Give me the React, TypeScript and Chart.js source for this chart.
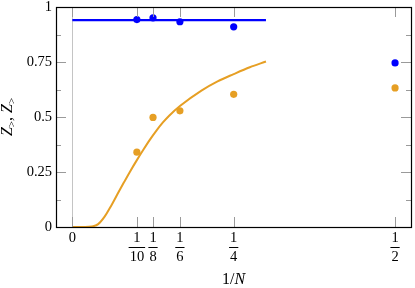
import { useEffect, useRef } from "react";
import { Chart, registerables } from "chart.js";
Chart.register(...registerables);

const X_TICKS = [0, 1 / 10, 1 / 8, 1 / 6, 1 / 4, 1 / 2];
const X_TICK_NUM = ["0", "1", "1", "1", "1", "1"];
const X_TICK_DEN = ["", "10", "8", "6", "4", "2"];
const Y_TICKS = [0, 0.25, 0.5, 0.75, 1];
const Y_TICK_LABELS = ["0", "0.25", "0.5", "0.75", "1"];
const Y_MINOR = [0.125, 0.375, 0.625, 0.875];

const POINT_X = [1 / 10, 1 / 8, 1 / 6, 1 / 4, 1 / 2];
const BLUE_Y = [0.943, 0.951, 0.933, 0.91, 0.746];
const ORANGE_Y = [0.34, 0.498, 0.528, 0.603, 0.632];

const BLUE_LINE_X = [0, 0.3];
const BLUE_LINE_Y = [0.94, 0.94];

const CURVE_X = [0, 0.01, 0.02, 0.03, 0.04, 0.05, 0.06, 0.07, 0.08, 0.09, 0.1, 0.11, 0.12, 0.13, 0.14, 0.15, 0.1667, 0.2, 0.225, 0.25, 0.275, 0.3];
const CURVE_Y = [0, 0, 0, 0.002, 0.013, 0.047, 0.096, 0.15, 0.203, 0.255, 0.304, 0.351, 0.396, 0.437, 0.474, 0.506, 0.55, 0.62, 0.662, 0.695, 0.726, 0.752];

const X_MIN = -0.0253;
const X_MAX = 0.5247;

const BLUE = "#0000ff";
const ORANGE = "#e69f24";
const FONT_FAMILY = "'Liberation Serif', serif";
const FONT_SIZE = 14.5;
const TITLE_SIZE = 16;

const zip = (xs: number[], ys: number[]) => xs.map((x, i) => ({ x, y: ys[i] }));

const decor = {
  id: "decor",
  beforeDatasetsDraw(chart: any) {
    const { ctx, chartArea: a, scales } = chart;
    const x = scales.x;
    ctx.save();
    ctx.strokeStyle = "#c4c4c4";
    ctx.lineWidth = 1;
    const px = Math.round(x.getPixelForValue(0)) + 0.5;
    ctx.beginPath();
    ctx.moveTo(px, a.top);
    ctx.lineTo(px, a.bottom);
    ctx.stroke();
    ctx.restore();
  },
  afterDraw(chart: any) {
    const { ctx, chartArea: a, scales } = chart;
    const x = scales.x;
    const y = scales.y;
    ctx.save();
    ctx.strokeStyle = "#9a9a9a";
    ctx.lineWidth = 1;
    ctx.beginPath();
    X_TICKS.forEach((v) => {
      const px = Math.round(x.getPixelForValue(v)) + 0.5;
      ctx.moveTo(px, a.bottom);
      ctx.lineTo(px, a.bottom - 10);
      ctx.moveTo(px, a.top);
      ctx.lineTo(px, a.top + 10);
    });
    Y_TICKS.forEach((v) => {
      const py = Math.round(y.getPixelForValue(v)) + 0.5;
      ctx.moveTo(a.left, py);
      ctx.lineTo(a.left + 10, py);
      ctx.moveTo(a.right, py);
      ctx.lineTo(a.right - 10, py);
    });
    Y_MINOR.forEach((v) => {
      const py = Math.round(y.getPixelForValue(v)) + 0.5;
      ctx.moveTo(a.left, py);
      ctx.lineTo(a.left + 5, py);
      ctx.moveTo(a.right, py);
      ctx.lineTo(a.right - 5, py);
    });
    ctx.stroke();
    ctx.strokeStyle = "#000";
    ctx.lineWidth = 1.2;
    ctx.strokeRect(Math.round(a.left) + 0.5, Math.round(a.top) + 0.5, Math.round(a.right) - Math.round(a.left), Math.round(a.bottom) - Math.round(a.top));
    ctx.font = `${FONT_SIZE}px ${FONT_FAMILY}`;
    ctx.lineWidth = 1;
    ctx.beginPath();
    X_TICKS.forEach((v, i) => {
      if (!X_TICK_DEN[i]) return;
      const px = x.getPixelForValue(v);
      const w = ctx.measureText(X_TICK_DEN[i]).width + 2;
      const by = Math.round(a.bottom + 20) + 0.5;
      ctx.moveTo(px - w / 2, by);
      ctx.lineTo(px + w / 2, by);
    });
    ctx.stroke();
    ctx.fillStyle = "#000";
    ctx.textBaseline = "middle";
    ctx.textAlign = "left";
    const upFont = `${TITLE_SIZE}px ${FONT_FAMILY}`;
    const itFont = `italic ${TITLE_SIZE}px ${FONT_FAMILY}`;
    ctx.font = upFont;
    const w1 = ctx.measureText("1/").width;
    ctx.font = itFont;
    const w2 = ctx.measureText("N").width;
    const cx = (a.left + a.right) / 2;
    const sx = cx - (w1 + w2) / 2;
    ctx.font = upFont;
    ctx.fillText("1/", sx, 280);
    ctx.font = itFont;
    ctx.fillText("N", sx + w1, 280);
    ctx.translate(8, (a.top + a.bottom) / 2);
    ctx.rotate(-Math.PI / 2);
    const subFont = `11px ${FONT_FAMILY}`;
    const parts: [string, string, number][] = [
      ["Z", itFont, 0],
      [">", subFont, 4],
      [", ", upFont, 0],
      ["Z", itFont, 0],
      [">", subFont, 4],
    ];
    let total = 0;
    parts.forEach(([t, f]) => {
      ctx.font = f;
      total += ctx.measureText(t).width;
    });
    let px = -total / 2;
    parts.forEach(([t, f, dy]) => {
      ctx.font = f;
      ctx.fillText(t, px, dy);
      px += ctx.measureText(t).width;
    });
    ctx.restore();
  },
};

export default function App() {
  const ref = useRef<HTMLCanvasElement | null>(null);
  useEffect(() => {
    document.body.style.margin = "0";
    const canvas = ref.current;
    if (!canvas) return;
    const chart = new Chart(canvas, {
      type: "scatter",
      data: {
        datasets: [
          {
            data: zip(BLUE_LINE_X, BLUE_LINE_Y),
            showLine: true,
            borderColor: BLUE,
            borderWidth: 2.2,
            pointRadius: 0,
          },
          {
            data: zip(POINT_X, BLUE_Y),
            backgroundColor: BLUE,
            borderWidth: 0,
            pointRadius: 3.6,
          },
          {
            data: zip(POINT_X, ORANGE_Y),
            backgroundColor: ORANGE,
            borderWidth: 0,
            pointRadius: 3.6,
          },
          {
            data: zip(CURVE_X, CURVE_Y),
            showLine: true,
            borderColor: ORANGE,
            borderWidth: 2,
            pointRadius: 0,
            cubicInterpolationMode: "monotone",
          },
        ],
      },
      options: {
        animation: false,
        responsive: false,
        events: [],
        layout: { padding: { top: 7, right: 4, left: 0, bottom: 0 } },
        plugins: { legend: { display: false }, tooltip: { enabled: false } },
        scales: {
          x: {
            type: "linear",
            min: X_MIN,
            max: X_MAX,
            grid: { display: false, drawTicks: false },
            border: { display: false },
            afterBuildTicks: (s: any) => {
              s.ticks = X_TICKS.map((v) => ({ value: v }));
            },
            afterFit: (s: any) => {
              s.height = 61;
              s.paddingLeft = 0;
              s.paddingRight = 0;
            },
            ticks: {
              autoSkip: false,
              maxRotation: 0,
              minRotation: 0,
              padding: 2,
              color: "#000",
              font: { family: FONT_FAMILY, size: FONT_SIZE, lineHeight: 1.31 },
              callback: (_v: any, i: number) =>
                X_TICK_DEN[i] ? [X_TICK_NUM[i], X_TICK_DEN[i]] : X_TICK_NUM[i],
            },
          },
          y: {
            type: "linear",
            min: 0,
            max: 1,
            grid: { display: false, drawTicks: false },
            border: { display: false },
            afterBuildTicks: (s: any) => {
              s.ticks = Y_TICKS.map((v) => ({ value: v }));
            },
            afterFit: (s: any) => {
              s.width = 56;
              s.paddingTop = 0;
              s.paddingBottom = 0;
            },
            ticks: {
              padding: 4,
              color: "#000",
              font: { family: FONT_FAMILY, size: FONT_SIZE },
              callback: (_v: any, i: number) => Y_TICK_LABELS[i],
            },
          },
        },
      },
      plugins: [decor],
    });
    return () => chart.destroy();
  }, []);
  return (
    <div style={{ width: 415, height: 288 }}>
      <canvas ref={ref} width={415} height={288} style={{ display: "block" }} />
    </div>
  );
}
